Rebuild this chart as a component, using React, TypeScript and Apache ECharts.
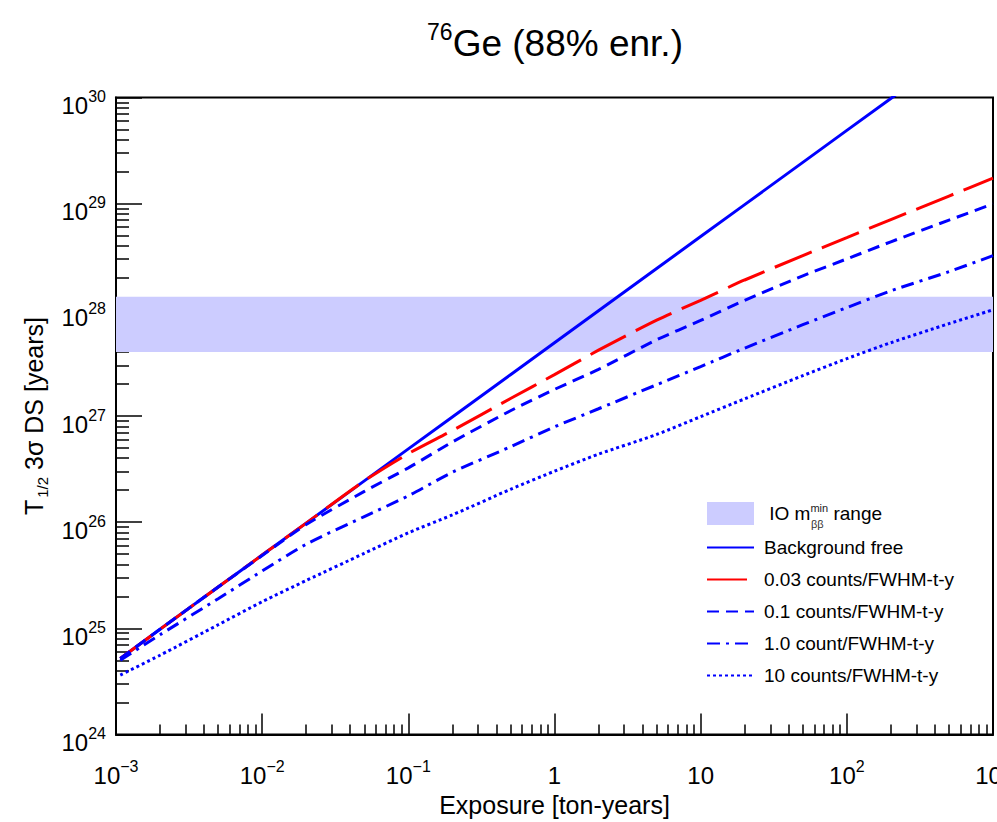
import React, { useEffect, useRef } from 'react';
import * as echarts from 'echarts';

// Exposure grid [ton-years]
const exposure = [0.00107, 0.002, 0.005, 0.01, 0.02, 0.05, 0.1, 0.2, 0.5, 1, 2, 5, 10, 20, 50, 100, 200, 500, 1000];

// T1/2 3-sigma discovery sensitivity [years]
const bgFree = [5.2e24, 9.8e24, 2.45e25, 4.9e25, 9.8e25, 2.45e26, 4.9e26, 9.8e26, 2.45e27, 4.9e27, 9.8e27, 2.45e28, 4.9e28, 9.8e28, 2.45e29, 4.9e29, 9.8e29, 2.45e30, 4.9e30];
const bkg003 = [5.2e24, 9.8e24, 2.45e25, 4.9e25, 9.8e25, 2.45e26, 4.42e26, 7.3e26, 1.46e27, 2.45e27, 4.17e27, 8.0e27, 1.23e28, 1.91e28, 3.24e28, 4.79e28, 7.08e28, 1.18e29, 1.74e29];
const bkg01 = [5.2e24, 9.8e24, 2.45e25, 4.85e25, 9.5e25, 1.95e26, 3.25e26, 5.69e26, 1.12e27, 1.78e27, 2.75e27, 5.22e27, 7.94e27, 1.23e28, 2.09e28, 3.02e28, 4.37e28, 7.0e28, 9.95e28];
const bkg1 = [5.0e24, 8.7e24, 1.9e25, 3.47e25, 6.2e25, 1.13e26, 1.77e26, 2.95e26, 5.13e26, 7.9e26, 1.17e27, 1.97e27, 2.92e27, 4.36e27, 7.24e27, 1.05e28, 1.51e28, 2.29e28, 3.24e28];
const bkg10 = [3.63e24, 5.58e24, 1.08e25, 1.78e25, 2.82e25, 5.09e25, 7.94e25, 1.17e26, 2.04e26, 3.02e26, 4.37e26, 6.7e26, 9.86e26, 1.45e27, 2.4e27, 3.47e27, 4.9e27, 7.41e27, 1.0e28];

// IO m_bb^min band [years]
const ioBand = [4.0e27, 1.33e28];

// Axis decades (exponents) and minor tick factors
const xDecades = [-3, -2, -1, 0, 1, 2, 3];
const yDecades = [24, 25, 26, 27, 28, 29, 30];
const minorFactors = [2, 3, 4, 5, 6, 7, 8, 9];

const BAND = 'IO m_ββ^min range';
const S_BG = 'Background free';
const S_003 = '0.03 counts/FWHM-t-y';
const S_01 = '0.1 counts/FWHM-t-y';
const S_1 = '1.0 count/FWHM-t-y';
const S_10 = '10 counts/FWHM-t-y';

const FONT = '"Liberation Sans", Arial, Helvetica, sans-serif';
const BLUE = '#0000ff';
const RED = '#ff0000';
const BAND_COLOR = '#ccccff';

const pairs = (vals: number[]) => exposure.map((e, i) => [e, vals[i]]);

const minorLogs = (decs: number[]) => {
  const out: number[] = [];
  for (let i = 0; i < decs.length - 1; i++) {
    for (const f of minorFactors) out.push(decs[i] + Math.log10(f));
  }
  return out;
};

const decadeLabel = (v: number) => {
  const e = Math.round(Math.log10(v));
  if (e === 0) return '{b|1}';
  if (e === 1) return '{b|10}';
  const s = e < 0 ? '\u2212' + String(-e) : String(e);
  return '{b|10}{s|' + s + '}';
};

const labelRich = {
  b: { fontSize: 24, fontFamily: FONT, color: '#000', verticalAlign: 'top', padding: [5, 0, 0, 0], lineHeight: 24 },
  s: { fontSize: 16, fontFamily: FONT, color: '#000', verticalAlign: 'top', lineHeight: 16 },
};

export default function App() {
  const ref = useRef<HTMLDivElement>(null);
  useEffect(() => {
    if (!ref.current) return;
    const chart = echarts.init(ref.current, null, { renderer: 'svg' });
    const grid = {
      left: 116, right: 4, top: 97.5, bottom: 87.5,
      show: true, borderColor: '#000', borderWidth: 2, backgroundColor: 'transparent',
      containLabel: false, outerBoundsMode: 'none',
    };
    const lineSeries = (name: string, vals: number[], color: string, type: any, z: number, smooth: number) => ({
      name,
      type: 'line',
      data: pairs(vals),
      showSymbol: false,
      symbol: 'none',
      clip: true,
      smooth,
      z,
      itemStyle: { color },
      lineStyle: { color, width: 3, type, cap: 'butt' },
    });
    const option: any = {
      animation: false,
      backgroundColor: '#fff',
      title: {
        text: '{s|76}{b|Ge (88% enr.)}',
        left: 555,
        textAlign: 'center',
        top: 18,
        padding: 0,
        textStyle: {
          fontWeight: 'normal',
          rich: {
            s: { fontSize: 23, fontFamily: FONT, fontWeight: 'normal', color: '#000', verticalAlign: 'top', padding: [2, 0, 0, 0], lineHeight: 23 },
            b: { fontSize: 37, fontFamily: FONT, fontWeight: 'normal', color: '#000', verticalAlign: 'top', padding: [7, 0, 0, 0], lineHeight: 37 },
          },
        },
      },
      grid,
      xAxis: [
        {
          type: 'log',
          logBase: 10,
          min: 1e-3,
          max: 1e3,
          name: 'Exposure [ton-years]',
          nameLocation: 'middle',
          nameGap: 50,
          nameTextStyle: { fontSize: 25, fontFamily: FONT, color: '#000' },
          axisLine: { show: true, onZero: false, lineStyle: { color: '#000', width: 2 } },
          axisTick: { show: true, inside: true, length: 21, lineStyle: { color: '#000', width: 1.5 } },
          axisLabel: { formatter: decadeLabel, margin: 24, rich: labelRich },
          splitLine: { show: false },
          minorTick: { show: false },
        },
        {
          type: 'value',
          min: xDecades[0],
          max: xDecades[xDecades.length - 1],
          position: 'bottom',
          axisLine: { show: false, onZero: false },
          axisLabel: { show: false },
          splitLine: { show: false },
          axisTick: { show: true, inside: true, length: 10, customValues: minorLogs(xDecades), lineStyle: { color: '#000', width: 1.5 } },
        },
      ],
      yAxis: [
        {
          type: 'log',
          logBase: 10,
          min: 1e24,
          max: 1e30,
          name: 'T{sub|1/2} 3σ DS [years]',
          nameLocation: 'middle',
          nameGap: 70,
          nameRotate: 90,
          nameTextStyle: {
            fontSize: 25,
            fontFamily: FONT,
            color: '#000',
            rich: {
              sub: { fontSize: 15, fontFamily: FONT, color: '#000', verticalAlign: 'top', padding: [14, 0, 0, 2], lineHeight: 15 },
            },
          },
          axisLine: { show: true, onZero: false, lineStyle: { color: '#000', width: 2 } },
          axisTick: { show: true, inside: true, length: 26, lineStyle: { color: '#000', width: 1.5 } },
          axisLabel: { formatter: decadeLabel, margin: 10, rich: labelRich, padding: [6, 0, 0, 0] },
          splitLine: { show: false },
          minorTick: { show: false },
        },
        {
          type: 'value',
          min: yDecades[0],
          max: yDecades[yDecades.length - 1],
          position: 'left',
          axisLine: { show: false, onZero: false },
          axisLabel: { show: false },
          splitLine: { show: false },
          axisTick: { show: true, inside: true, length: 13, customValues: minorLogs(yDecades), lineStyle: { color: '#000', width: 1.5 } },
        },
      ],
      legend: {
        orient: 'vertical',
        left: 706,
        top: 502,
        padding: 0,
        itemWidth: 47,
        itemHeight: 23,
        itemGap: 13,
        selectedMode: false,
        itemStyle: { opacity: 0 },
        textStyle: {
          fontSize: 19,
          fontFamily: FONT,
          color: '#000',
          padding: [0, 0, 0, 5],
          rich: {
            t: { fontSize: 19, fontFamily: FONT, color: '#000', lineHeight: 23 },
            s: { fontSize: 11, fontFamily: FONT, color: '#222', verticalAlign: 'top', lineHeight: 11 },
          },
        },
        formatter: (name: string) => (name === BAND ? '{t| IO m}{s|min}{t| range}' : name),
        data: [
          { name: BAND, icon: 'rect', itemStyle: { color: BAND_COLOR, opacity: 1 } },
          S_BG, S_003, S_01, S_1, S_10,
        ],
      },
      graphic: [
        { type: 'text', left: 811, top: 518, silent: true, style: { text: 'ββ', fontSize: 11, fontFamily: FONT, fill: '#333' } },
      ],
      series: [
        {
          name: BAND,
          type: 'line',
          data: [],
          z: 1,
          itemStyle: { color: BAND_COLOR },
          lineStyle: { color: BAND_COLOR },
          markArea: {
            silent: true,
            itemStyle: { color: BAND_COLOR, opacity: 1 },
            data: [[{ yAxis: ioBand[0] }, { yAxis: ioBand[1] }]],
          },
        },
        lineSeries(S_BG, bgFree, BLUE, 'solid', 3, 0),
        lineSeries(S_003, bkg003, RED, [40, 11], 4, 0.25),
        lineSeries(S_01, bkg01, BLUE, [12, 7], 5, 0.25),
        lineSeries(S_1, bkg1, BLUE, [13, 6, 3, 6], 6, 0.25),
        lineSeries(S_10, bkg10, BLUE, [3, 3], 7, 0.25),
      ],
    };
    chart.setOption(option);
    return () => chart.dispose();
  }, []);
  return <div ref={ref} style={{ position: 'absolute', left: 0, top: 0, width: 997, height: 822, background: '#fff' }} />;
}
